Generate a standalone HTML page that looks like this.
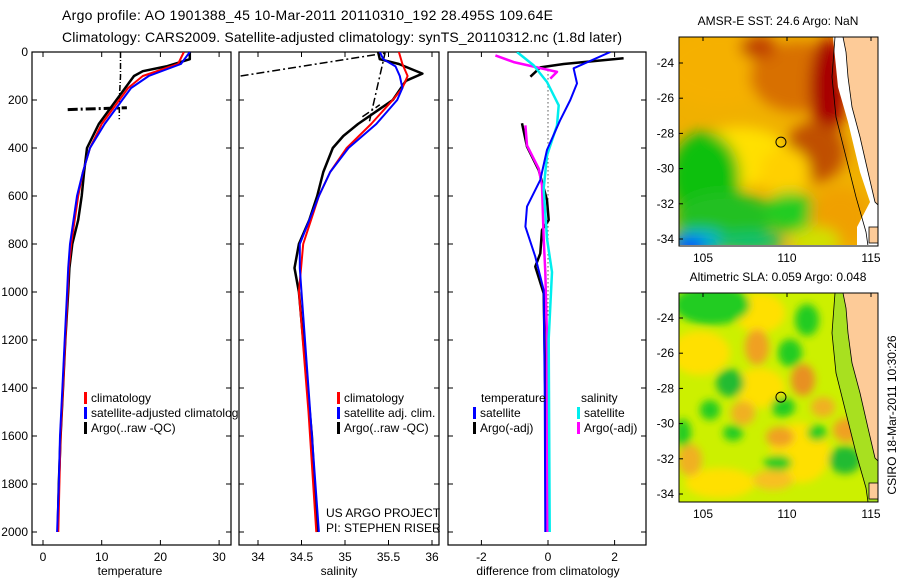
<!DOCTYPE html>
<html><head><meta charset="utf-8"><style>
html,body{margin:0;padding:0;background:#fff;}
svg{display:block;font-family:"Liberation Sans",sans-serif;}
text{font-size:12px;fill:#000;}
</style></head><body>
<svg id="fig" width="900" height="580" viewBox="0 0 900 580">
<defs>
<clipPath id="cp1"><rect x="32" y="52" width="199" height="493"/></clipPath>
<clipPath id="cp2"><rect x="239" y="52" width="200" height="493"/></clipPath>
<clipPath id="cp3"><rect x="448" y="52" width="198" height="493"/></clipPath>
<clipPath id="cpm1"><rect x="679" y="37" width="199" height="208"/></clipPath>
<clipPath id="cpm2"><rect x="679" y="293" width="199" height="209"/></clipPath>
<filter id="blur" x="-50%" y="-50%" width="200%" height="200%"><feGaussianBlur stdDeviation="7"/></filter>
<filter id="blur2" x="-50%" y="-50%" width="200%" height="200%"><feGaussianBlur stdDeviation="4"/></filter>
</defs>
<text x="62" y="20" style="font-size:14px" textLength="491">Argo profile: AO 1901388_45 10-Mar-2011 20110310_192 28.495S 109.64E</text>
<text x="62" y="42" style="font-size:14px" textLength="560">Climatology: CARS2009. Satellite-adjusted climatology: synTS_20110312.nc (1.8d later)</text>
<g id="p1"></g>
<g id="p2"></g>
<g id="p3"></g>
<g id="m1"></g>
<g id="m2"></g>
<text transform="translate(896,415) rotate(-90)" text-anchor="middle">CSIRO 18-Mar-2011 10:30:26</text>
</svg>
<script>
// ---- data ----
const yTicks = [0,200,400,600,800,1000,1200,1400,1600,1800,2000];
const tempTicks = [0,10,20,30];
const salTicks = [34,34.5,35,35.5,36];
const salTickLabels = ["34","34.5","35","35.5","36"];
const diffTicks = [-2,0,2];

const tDepthClim = [0,50,100,150,200,300,400,500,600,800,900,1000,1200,1400,1600,1800,2000];
const tempClim =   [24,23,17,14.5,13,10,8,6.8,6,4.8,4.4,4.2,3.8,3.4,3.0,2.8,2.6];
const tempSat =    [25,23.5,18,15,13.5,10.5,8,6.8,5.8,4.6,4.3,4.1,3.7,3.3,2.9,2.7,2.4];
const tDepthArgo = [0,30,60,80,100,150,200,300,400,500,600,700,800,900,1000,1200,1400,1600,1800,2000];
const tempArgo =   [25,25,21,17,15.5,14,12.5,9.5,7.5,7,6.6,6,5,4.5,4.3,3.8,3.4,3.0,2.7,2.5];
const tempRawV = [13.2,13.2,13.0,13.0];
const tempRawVDepth = [0,100,200,280];
const tempRawH = [4.2,14.3];
const tempRawHDepth = [240,232];

const sDepthClim = [0,50,100,150,200,300,400,500,600,800,1000,1500,2000];
const salClim =    [35.62,35.66,35.72,35.66,35.55,35.30,35.02,34.83,34.70,34.52,34.47,34.58,34.67];
const sDepthSat =  [0,30,60,100,150,200,300,400,500,600,800,900,1000,1500,2000];
const salSat =     [35.4,35.44,35.58,35.63,35.66,35.60,35.36,35.04,34.83,34.70,34.48,34.48,34.50,34.60,34.70];
const sDepthArgo = [0,30,50,90,120,200,300,350,400,500,600,700,800,900,1000,1200,1400,1600,1800,2000];
const salArgo =    [35.38,35.40,35.62,35.89,35.70,35.55,35.15,34.98,34.86,34.75,34.68,34.59,34.47,34.42,34.47,34.52,34.57,34.62,34.65,34.68];
const salRaw = [33.8,35.46,35.28];
const salRaw2 = [35.2,35.4];
const salRawDepth = [100,5,290];
const salRaw2Depth = [270,220];

const dTempSatDepth = [0,68,131,200,283,408,533,644,728,853,992,1400,2000];
const dTempSat =      [1.87,0.77,0.87,0.67,0.37,-0.03,-0.23,-0.63,-0.68,-0.38,-0.13,-0.1,-0.08];
const dTempArgoDepth = [26,50,64,103];
const dTempArgo =      [2.27,0.47,-0.23,-0.53];
const dTempArgo2Depth = [297,394,492,617,700,742,839,894,1006,1400,2000];
const dTempArgo2 =      [-0.78,-0.63,-0.28,-0.03,0.02,-0.18,-0.23,-0.38,-0.13,-0.08,-0.05];
const dSalArgoDepth = [14,42,83,111];
const dSalArgo =      [-1.58,-1.03,0.27,0.07];
const dSalArgo2Depth = [306,389,486,556,778,917,1194,2000];
const dSalArgo2 =      [-0.68,-0.63,-0.28,-0.18,-0.13,-0.08,-0.03,-0.02];
const dSalSatDepth = [0,56,125,222,306,431,569,778,917,1194,2000];
const dSalSat =      [-0.93,-0.43,-0.03,0.32,0.27,-0.03,-0.13,-0.03,0.12,0.02,0.05];

// ---- helpers ----
const NS="http://www.w3.org/2000/svg";
function mk(tag, parent, attrs){const e=document.createElementNS(NS,tag);for(const k in attrs)e.setAttribute(k,attrs[k]);parent.appendChild(e);return e;}
const yD = d => 52 + d*0.24;
const xT = v => 43 + v*5.87;
const xS = v => 258 + (v-34)*87;
const xDf = v => 548 + v*33.3;

function drawPanel(g, x0, w, xs, ticks, labels, label, labelX, showY){
  const r=mk('rect',g,{x:x0,y:52,width:w,height:493,fill:'#fff',stroke:'#000','stroke-width':1.2});
  
  
  yTicks.forEach(t=>{
    const y=yD(t);
    const a=mk('line',g,{x1:x0,x2:x0+5,y1:y,y2:y,stroke:'#000'});
    
    
    const b=mk('line',g,{x1:x0+w-5,x2:x0+w,y1:y,y2:y,stroke:'#000'});
    
    
    if(showY){const tx=mk('text',g,{x:28,y:y+4,'text-anchor':'end'});tx.textContent=t;
      
      }
  });
  ticks.forEach((t,i)=>{
    const x=xs(t);
    const a=mk('line',g,{x1:x,x2:x,y1:545,y2:540,stroke:'#000'});
    
    
    const b=mk('line',g,{x1:x,x2:x,y1:52,y2:57,stroke:'#000'});
    
    
    const tx=mk('text',g,{x:x,y:561,'text-anchor':'middle'});tx.textContent=labels[i];
    
    
  });
  const al=mk('text',g,{x:labelX,y:575,'text-anchor':'middle'});al.textContent=label;
  
  
}
function series(g, clip, xs, vals, depths, color, width, dash, name){
  const pts=vals.map((v,i)=>xs(v).toFixed(1)+','+yD(depths[i]).toFixed(1)).join(' ');
  const p=mk('polyline',g,{points:pts,fill:'none',stroke:color,'stroke-width':width,'clip-path':'url(#'+clip+')','stroke-linejoin':'round'});
  if(dash)p.setAttribute('stroke-dasharray',dash);
  
  
}
function legend(g,x,y,color,label){
  const m=mk('rect',g,{x:x,y:y-10,width:3,height:12,fill:color});
  
  
  const t=mk('text',g,{x:x+7,y:y});t.textContent=label;
  
  
}

// ---- panel 1 ----
const p1=document.getElementById('p1');
drawPanel(p1,32,199,xT,tempTicks,tempTicks.map(String),'temperature',130,true);
series(p1,'cp1',xT,tempRawV,tempRawVDepth,'#000',1.5,'6,2,1,2','temp-raw-qc-vertical');
series(p1,'cp1',xT,tempRawH,tempRawHDepth,'#000',3,'10,3,2,3','temp-raw-qc-horizontal');
series(p1,'cp1',xT,tempArgo,tDepthArgo,'#000',2.5,null,'temp-argo-line');
series(p1,'cp1',xT,tempClim,tDepthClim,'#f00',2,null,'temp-climatology-line');
series(p1,'cp1',xT,tempSat,tDepthClim,'#00f',2,null,'temp-satellite-line');
const lg1=mk('g',p1,{});
legend(lg1,84,402,'#f00','climatology');
legend(lg1,84,417,'#00f','satellite-adjusted climatology');
legend(lg1,84,432,'#000','Argo(..raw -QC)');

// ---- panel 2 ----
const p2=document.getElementById('p2');
drawPanel(p2,239,200,xS,salTicks,salTickLabels,'salinity',339,false);
series(p2,'cp2',xS,salRaw,salRawDepth,'#000',1.5,'8,3,2,3','sal-raw-qc-line');
series(p2,'cp2',xS,salRaw2,salRaw2Depth,'#000',1.5,'8,3,2,3','sal-raw-qc-segment');
series(p2,'cp2',xS,salArgo,sDepthArgo,'#000',2.5,null,'sal-argo-line');
series(p2,'cp2',xS,salClim,sDepthClim,'#f00',2,null,'sal-climatology-line');
series(p2,'cp2',xS,salSat,sDepthSat,'#00f',2,null,'sal-satellite-line');
legend(p2,337,402,'#f00','climatology');
legend(p2,337,417,'#00f','satellite adj. clim.');
legend(p2,337,432,'#000','Argo(..raw -QC)');
const u1=mk('text',p2,{x:326,y:517});u1.textContent='US ARGO PROJECT';


const u2=mk('text',p2,{x:326,y:532});u2.textContent='PI: STEPHEN RISER';



// ---- panel 3 ----
const p3=document.getElementById('p3');
drawPanel(p3,448,198,xDf,diffTicks,diffTicks.map(String),'difference from climatology',548,false);
const zl=mk('line',p3,{x1:xDf(0),x2:xDf(0),y1:yD(60),y2:yD(1100),stroke:'#000','stroke-dasharray':'1,3'});


series(p3,'cp3',xDf,dTempArgo,dTempArgoDepth,'#000',2.5,null,'diff-temp-argo-upper');
series(p3,'cp3',xDf,dTempArgo2,dTempArgo2Depth,'#000',2.5,null,'diff-temp-argo-line');
series(p3,'cp3',xDf,dSalArgo,dSalArgoDepth,'#f0f',2.5,null,'diff-sal-argo-upper');
series(p3,'cp3',xDf,dSalArgo2,dSalArgo2Depth,'#f0f',2.5,null,'diff-sal-argo-line');
series(p3,'cp3',xDf,dSalSat,dSalSatDepth,'#0ee',2.5,null,'diff-sal-satellite-line');
series(p3,'cp3',xDf,dTempSat,dTempSatDepth,'#00f',2,null,'diff-temp-satellite-line');
const th=mk('text',p3,{x:481,y:402});th.textContent='temperature';


const sh=mk('text',p3,{x:581,y:402});sh.textContent='salinity';


legend(p3,473,417,'#00f','satellite');
legend(p3,473,432,'#000','Argo(-adj)');
legend(p3,577,417,'#0ee','satellite');
legend(p3,577,432,'#f0f','Argo(-adj)');

// ---- maps ----
const mapLats=[-24,-26,-28,-30,-32,-34];
const mapLons=[105,110,115];
const floatLon=109.64, floatLat=-28.495;
const lonX = lon => 703 + (lon-105)*16.8;
function drawMap(g, y0, yTop, clip, title, baseColor, blobs, sst, filt){
  const latY = lat => yTop + (-24-lat)*17.6;
  const body=mk('g',g,{'clip-path':'url(#'+clip+')'});
  const bg=mk('rect',body,{x:679,y:y0,width:199,height:209,fill:baseColor});
  
  
  const bl=mk('g',body,{filter:'url(#'+filt+')'});
  blobs.forEach(b=>{
    const e=mk('ellipse',bl,{cx:b[0],cy:y0+b[1],rx:b[2],ry:b[3],fill:b[4]});
    
    
  });
  if(sst){
    const w=mk('polygon',body,{points:`833,${y0} 843,${y0} 878,${y0} 878,${y0+208} 857,${y0+208} 857,${y0+190} 870,${y0+165} 860,${y0+135} 848,${y0+85} 838,${y0+50}`,fill:'#fff'});
    
    
  } else {
    const gs=mk('polygon',body,{points:`835,${y0} 846,${y0} 848,${y0+40} 852,${y0+70} 860,${y0+100} 868,${y0+135} 875,${y0+165} 878,${y0+168} 878,${y0+209} 868,${y0+209} 866,${y0+195} 856,${y0+160} 846,${y0+120} 836,${y0+80} 832,${y0+40}`,fill:'#a8e020'});
    
    
  }
  const land=mk('polygon',body,{points:`843,${y0} 878,${y0} 878,${y0+168} 875,${y0+165} 868,${y0+135} 860,${y0+100} 852,${y0+70} 848,${y0+40} 846,${y0+15}`,fill:'#fdcb98'});
  
  
  const l2=mk('rect',body,{x:869,y:y0+190,width:9,height:16,fill:'#fdcb98',stroke:'#000','stroke-width':0.8});
  
  
  const c1=mk('polyline',body,{points:`843,${y0} 846,${y0+15} 848,${y0+40} 852,${y0+70} 860,${y0+100} 868,${y0+135} 875,${y0+165} 878,${y0+168}`,fill:'none',stroke:'#000','stroke-width':0.8});
  
  
  const c2=mk('polyline',body,{points:`835,${y0} 832,${y0+40} 836,${y0+80} 846,${y0+120} 856,${y0+160} 866,${y0+195} 868,${y0+209}`,fill:'none',stroke:'#000','stroke-width':0.8});
  
  
  const fr=mk('rect',g,{x:679,y:y0,width:199,height:209,fill:'none',stroke:'#000','stroke-width':1});
  
  
  mapLats.forEach(l=>{
    const y=latY(l);
    const t=mk('line',g,{x1:679,x2:683,y1:y,y2:y,stroke:'#000'});
    
    
    const tx=mk('text',g,{x:674,y:y+4,'text-anchor':'end'});tx.textContent=l;
    
    
  });
  mapLons.forEach(l=>{
    const x=lonX(l);
    const t=mk('line',g,{x1:x,x2:x,y1:y0,y2:y0+4,stroke:'#000'});
    
    
    const tx=mk('text',g,{x:x,y:y0+225,'text-anchor':'middle'});tx.textContent=l;
    
    
  });
  const tt=mk('text',g,{x:778,y:y0-12,'text-anchor':'middle'});tt.textContent=title;
  
  
  const ci=mk('circle',g,{cx:lonX(floatLon),cy:latY(floatLat),r:5,fill:'none',stroke:'#000','stroke-width':1});
  
  
}
const sstBlobs=[
 [720,30,60,40,'#f5b000'],[800,40,50,35,'#d87000'],[758,10,18,12,'#c04000'],
 [828,50,18,50,'#a80000'],[815,115,30,30,'#c05000'],[740,120,50,30,'#ffe000'],
 [785,135,25,25,'#ffd000'],[705,140,35,45,'#10c010'],[725,180,50,25,'#20c020'],
 [790,175,25,20,'#20cc20'],[840,180,30,30,'#f0a000'],[700,205,30,12,'#00b0d0'],
 [690,210,15,10,'#0050ff'],[750,205,35,10,'#10c070'],[815,205,25,15,'#d0e000']
];
drawMap(document.getElementById('m1'),37,63,'cpm1','AMSR-E SST: 24.6 Argo: NaN','#f0b000',sstBlobs,true,'blur');
const slaBlobs=[
 [760,20,25,20,'#ffe000'],[700,60,30,22,'#ffe000'],[760,95,25,20,'#ffe000'],
 [800,160,30,30,'#ffe000'],[720,190,35,15,'#ffe000'],
 [712,12,38,20,'#20cc20'],[807,27,12,16,'#20cc20'],[757,54,12,18,'#f0a020'],
 [790,60,12,14,'#20cc20'],[730,90,14,14,'#20bb30'],[803,87,12,16,'#e89020'],
 [783,114,12,10,'#20cc20'],[743,120,12,12,'#f0b020'],[780,144,14,10,'#f0a020'],
 [733,140,10,8,'#20cc20'],[817,140,10,8,'#20cc20'],[847,137,14,12,'#f0a020'],
 [845,167,16,14,'#20bb30'],[778,170,14,8,'#20cc20'],[773,187,20,10,'#f8c020'],
 [690,167,12,16,'#f0b020'],[683,140,8,14,'#20cc20'],[710,117,10,10,'#20cc20'],
 [823,114,12,10,'#f0b020']
];
drawMap(document.getElementById('m2'),293,318,'cpm2','Altimetric SLA: 0.059 Argo: 0.048','#ccf000',slaBlobs,false,'blur2');
</script>
</body></html>
